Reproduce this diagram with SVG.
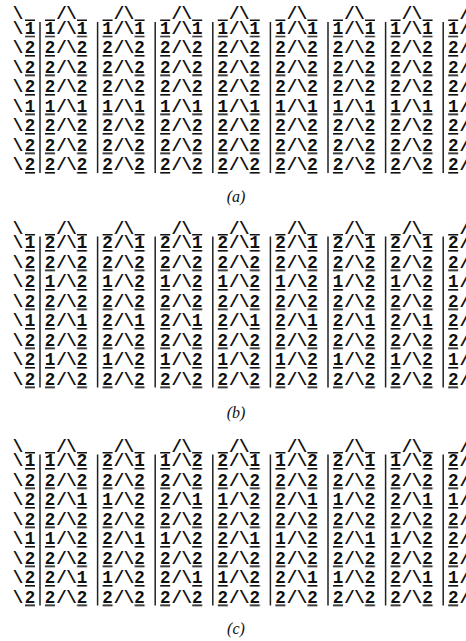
<svg xmlns="http://www.w3.org/2000/svg" xmlns:xlink="http://www.w3.org/1999/xlink" width="466" height="641" viewBox="0 0 466 641">
<style>
.t{font-family:"Liberation Mono","DejaVu Sans Mono",monospace;font-weight:bold;font-size:17.5px;text-anchor:middle;fill:#111}
.bar{stroke:#222;stroke-width:1.5;fill:none}
.ol{stroke:#111;stroke-width:1.5;fill:none}
.lab{font-family:"Liberation Serif","Times New Roman",serif;font-style:italic;font-size:16px;text-anchor:middle;fill:#111}
</style>
<defs>
<pattern id="ul" patternUnits="userSpaceOnUse" x="40" y="2" width="57.6" height="19.5"><rect x="5" y="0" width="10" height="1.6" fill="#111"/><rect x="37" y="0" width="10" height="1.6" fill="#111"/></pattern>
<pattern id="ulp" patternUnits="userSpaceOnUse" x="25" y="2" width="10" height="19.5"><rect x="0" y="0" width="10" height="1.6" fill="#111"/></pattern>
<path id="bars" class="bar" d="M40 -11.5V139.5M97.6 -11.5V139.5M155.2 -11.5V139.5M212.8 -11.5V139.5M270.4 -11.5V139.5M328 -11.5V139.5M385.6 -11.5V139.5M443.2 -11.5V139.5"/>
<g id="ulines"><rect x="25" y="2" width="10" height="140" fill="url(#ulp)"/><rect x="40" y="2" width="426" height="140" fill="url(#ul)"/></g>
<path id="olines" class="ol" d="M25 -13.3h10M45 -13.3h10M77 -13.3h10M102.6 -13.3h10M134.6 -13.3h10M160.2 -13.3h10M192.2 -13.3h10M217.8 -13.3h10M249.8 -13.3h10M275.4 -13.3h10M307.4 -13.3h10M333 -13.3h10M365 -13.3h10M390.6 -13.3h10M422.6 -13.3h10M448.2 -13.3h10"/>
</defs>
<rect width="466" height="641" fill="#fff"/>

<g id="panel-a" transform="translate(0,33.5)">
<use href="#bars"/><use href="#ulines"/><use href="#olines"/>
<text class="t" y="-14.5" x="18 61.5 71.5 119.1 129.1 176.7 186.7 234.3 244.3 291.9 301.9 349.5 359.5 407.1 417.1 464.7">\/\/\/\/\/\/\/\/</text>
<text class="t" y="0" x="18 30 50 61.5 71.5 82 107.6 119.1 129.1 139.6 165.2 176.7 186.7 197.2 222.8 234.3 244.3 254.8 280.4 291.9 301.9 312.4 338 349.5 359.5 370 395.6 407.1 417.1 427.6 453.2 464.7">\11/\11/\11/\11/\11/\11/\11/\11/</text>
<text class="t" y="19.5" x="18 30 50 61.5 71.5 82 107.6 119.1 129.1 139.6 165.2 176.7 186.7 197.2 222.8 234.3 244.3 254.8 280.4 291.9 301.9 312.4 338 349.5 359.5 370 395.6 407.1 417.1 427.6 453.2 464.7">\22/\22/\22/\22/\22/\22/\22/\22/</text>
<text class="t" y="39" x="18 30 50 61.5 71.5 82 107.6 119.1 129.1 139.6 165.2 176.7 186.7 197.2 222.8 234.3 244.3 254.8 280.4 291.9 301.9 312.4 338 349.5 359.5 370 395.6 407.1 417.1 427.6 453.2 464.7">\22/\22/\22/\22/\22/\22/\22/\22/</text>
<text class="t" y="58.5" x="18 30 50 61.5 71.5 82 107.6 119.1 129.1 139.6 165.2 176.7 186.7 197.2 222.8 234.3 244.3 254.8 280.4 291.9 301.9 312.4 338 349.5 359.5 370 395.6 407.1 417.1 427.6 453.2 464.7">\22/\22/\22/\22/\22/\22/\22/\22/</text>
<text class="t" y="78" x="18 30 50 61.5 71.5 82 107.6 119.1 129.1 139.6 165.2 176.7 186.7 197.2 222.8 234.3 244.3 254.8 280.4 291.9 301.9 312.4 338 349.5 359.5 370 395.6 407.1 417.1 427.6 453.2 464.7">\11/\11/\11/\11/\11/\11/\11/\11/</text>
<text class="t" y="97.5" x="18 30 50 61.5 71.5 82 107.6 119.1 129.1 139.6 165.2 176.7 186.7 197.2 222.8 234.3 244.3 254.8 280.4 291.9 301.9 312.4 338 349.5 359.5 370 395.6 407.1 417.1 427.6 453.2 464.7">\22/\22/\22/\22/\22/\22/\22/\22/</text>
<text class="t" y="117" x="18 30 50 61.5 71.5 82 107.6 119.1 129.1 139.6 165.2 176.7 186.7 197.2 222.8 234.3 244.3 254.8 280.4 291.9 301.9 312.4 338 349.5 359.5 370 395.6 407.1 417.1 427.6 453.2 464.7">\22/\22/\22/\22/\22/\22/\22/\22/</text>
<text class="t" y="136.5" x="18 30 50 61.5 71.5 82 107.6 119.1 129.1 139.6 165.2 176.7 186.7 197.2 222.8 234.3 244.3 254.8 280.4 291.9 301.9 312.4 338 349.5 359.5 370 395.6 407.1 417.1 427.6 453.2 464.7">\22/\22/\22/\22/\22/\22/\22/\22/</text>
</g>
<text id="label-a" class="lab" x="236" y="202">(a)</text>

<g id="panel-b" transform="translate(0,248)">
<use href="#bars"/><use href="#ulines"/><use href="#olines"/>
<text class="t" y="-14.5" x="18 61.5 71.5 119.1 129.1 176.7 186.7 234.3 244.3 291.9 301.9 349.5 359.5 407.1 417.1 464.7">\/\/\/\/\/\/\/\/</text>
<text class="t" y="0" x="18 30 50 61.5 71.5 82 107.6 119.1 129.1 139.6 165.2 176.7 186.7 197.2 222.8 234.3 244.3 254.8 280.4 291.9 301.9 312.4 338 349.5 359.5 370 395.6 407.1 417.1 427.6 453.2 464.7">\12/\12/\12/\12/\12/\12/\12/\12/</text>
<text class="t" y="19.5" x="18 30 50 61.5 71.5 82 107.6 119.1 129.1 139.6 165.2 176.7 186.7 197.2 222.8 234.3 244.3 254.8 280.4 291.9 301.9 312.4 338 349.5 359.5 370 395.6 407.1 417.1 427.6 453.2 464.7">\22/\22/\22/\22/\22/\22/\22/\22/</text>
<text class="t" y="39" x="18 30 50 61.5 71.5 82 107.6 119.1 129.1 139.6 165.2 176.7 186.7 197.2 222.8 234.3 244.3 254.8 280.4 291.9 301.9 312.4 338 349.5 359.5 370 395.6 407.1 417.1 427.6 453.2 464.7">\21/\21/\21/\21/\21/\21/\21/\21/</text>
<text class="t" y="58.5" x="18 30 50 61.5 71.5 82 107.6 119.1 129.1 139.6 165.2 176.7 186.7 197.2 222.8 234.3 244.3 254.8 280.4 291.9 301.9 312.4 338 349.5 359.5 370 395.6 407.1 417.1 427.6 453.2 464.7">\22/\22/\22/\22/\22/\22/\22/\22/</text>
<text class="t" y="78" x="18 30 50 61.5 71.5 82 107.6 119.1 129.1 139.6 165.2 176.7 186.7 197.2 222.8 234.3 244.3 254.8 280.4 291.9 301.9 312.4 338 349.5 359.5 370 395.6 407.1 417.1 427.6 453.2 464.7">\12/\12/\12/\12/\12/\12/\12/\12/</text>
<text class="t" y="97.5" x="18 30 50 61.5 71.5 82 107.6 119.1 129.1 139.6 165.2 176.7 186.7 197.2 222.8 234.3 244.3 254.8 280.4 291.9 301.9 312.4 338 349.5 359.5 370 395.6 407.1 417.1 427.6 453.2 464.7">\22/\22/\22/\22/\22/\22/\22/\22/</text>
<text class="t" y="117" x="18 30 50 61.5 71.5 82 107.6 119.1 129.1 139.6 165.2 176.7 186.7 197.2 222.8 234.3 244.3 254.8 280.4 291.9 301.9 312.4 338 349.5 359.5 370 395.6 407.1 417.1 427.6 453.2 464.7">\21/\21/\21/\21/\21/\21/\21/\21/</text>
<text class="t" y="136.5" x="18 30 50 61.5 71.5 82 107.6 119.1 129.1 139.6 165.2 176.7 186.7 197.2 222.8 234.3 244.3 254.8 280.4 291.9 301.9 312.4 338 349.5 359.5 370 395.6 407.1 417.1 427.6 453.2 464.7">\22/\22/\22/\22/\22/\22/\22/\22/</text>
</g>
<text id="label-b" class="lab" x="236" y="418">(b)</text>

<g id="panel-c" transform="translate(0,466)">
<use href="#bars"/><use href="#ulines"/><use href="#olines"/>
<text class="t" y="-14.5" x="18 61.5 71.5 119.1 129.1 176.7 186.7 234.3 244.3 291.9 301.9 349.5 359.5 407.1 417.1 464.7">\/\/\/\/\/\/\/\/</text>
<text class="t" y="0" x="18 30 50 61.5 71.5 82 107.6 119.1 129.1 139.6 165.2 176.7 186.7 197.2 222.8 234.3 244.3 254.8 280.4 291.9 301.9 312.4 338 349.5 359.5 370 395.6 407.1 417.1 427.6 453.2 464.7">\11/\22/\11/\22/\11/\22/\11/\22/</text>
<text class="t" y="19.5" x="18 30 50 61.5 71.5 82 107.6 119.1 129.1 139.6 165.2 176.7 186.7 197.2 222.8 234.3 244.3 254.8 280.4 291.9 301.9 312.4 338 349.5 359.5 370 395.6 407.1 417.1 427.6 453.2 464.7">\22/\22/\22/\22/\22/\22/\22/\22/</text>
<text class="t" y="39" x="18 30 50 61.5 71.5 82 107.6 119.1 129.1 139.6 165.2 176.7 186.7 197.2 222.8 234.3 244.3 254.8 280.4 291.9 301.9 312.4 338 349.5 359.5 370 395.6 407.1 417.1 427.6 453.2 464.7">\22/\11/\22/\11/\22/\11/\22/\11/</text>
<text class="t" y="58.5" x="18 30 50 61.5 71.5 82 107.6 119.1 129.1 139.6 165.2 176.7 186.7 197.2 222.8 234.3 244.3 254.8 280.4 291.9 301.9 312.4 338 349.5 359.5 370 395.6 407.1 417.1 427.6 453.2 464.7">\22/\22/\22/\22/\22/\22/\22/\22/</text>
<text class="t" y="78" x="18 30 50 61.5 71.5 82 107.6 119.1 129.1 139.6 165.2 176.7 186.7 197.2 222.8 234.3 244.3 254.8 280.4 291.9 301.9 312.4 338 349.5 359.5 370 395.6 407.1 417.1 427.6 453.2 464.7">\11/\22/\11/\22/\11/\22/\11/\22/</text>
<text class="t" y="97.5" x="18 30 50 61.5 71.5 82 107.6 119.1 129.1 139.6 165.2 176.7 186.7 197.2 222.8 234.3 244.3 254.8 280.4 291.9 301.9 312.4 338 349.5 359.5 370 395.6 407.1 417.1 427.6 453.2 464.7">\22/\22/\22/\22/\22/\22/\22/\22/</text>
<text class="t" y="117" x="18 30 50 61.5 71.5 82 107.6 119.1 129.1 139.6 165.2 176.7 186.7 197.2 222.8 234.3 244.3 254.8 280.4 291.9 301.9 312.4 338 349.5 359.5 370 395.6 407.1 417.1 427.6 453.2 464.7">\22/\11/\22/\11/\22/\11/\22/\11/</text>
<text class="t" y="136.5" x="18 30 50 61.5 71.5 82 107.6 119.1 129.1 139.6 165.2 176.7 186.7 197.2 222.8 234.3 244.3 254.8 280.4 291.9 301.9 312.4 338 349.5 359.5 370 395.6 407.1 417.1 427.6 453.2 464.7">\22/\22/\22/\22/\22/\22/\22/\22/</text>
</g>
<text id="label-c" class="lab" x="236" y="634">(c)</text>
</svg>
